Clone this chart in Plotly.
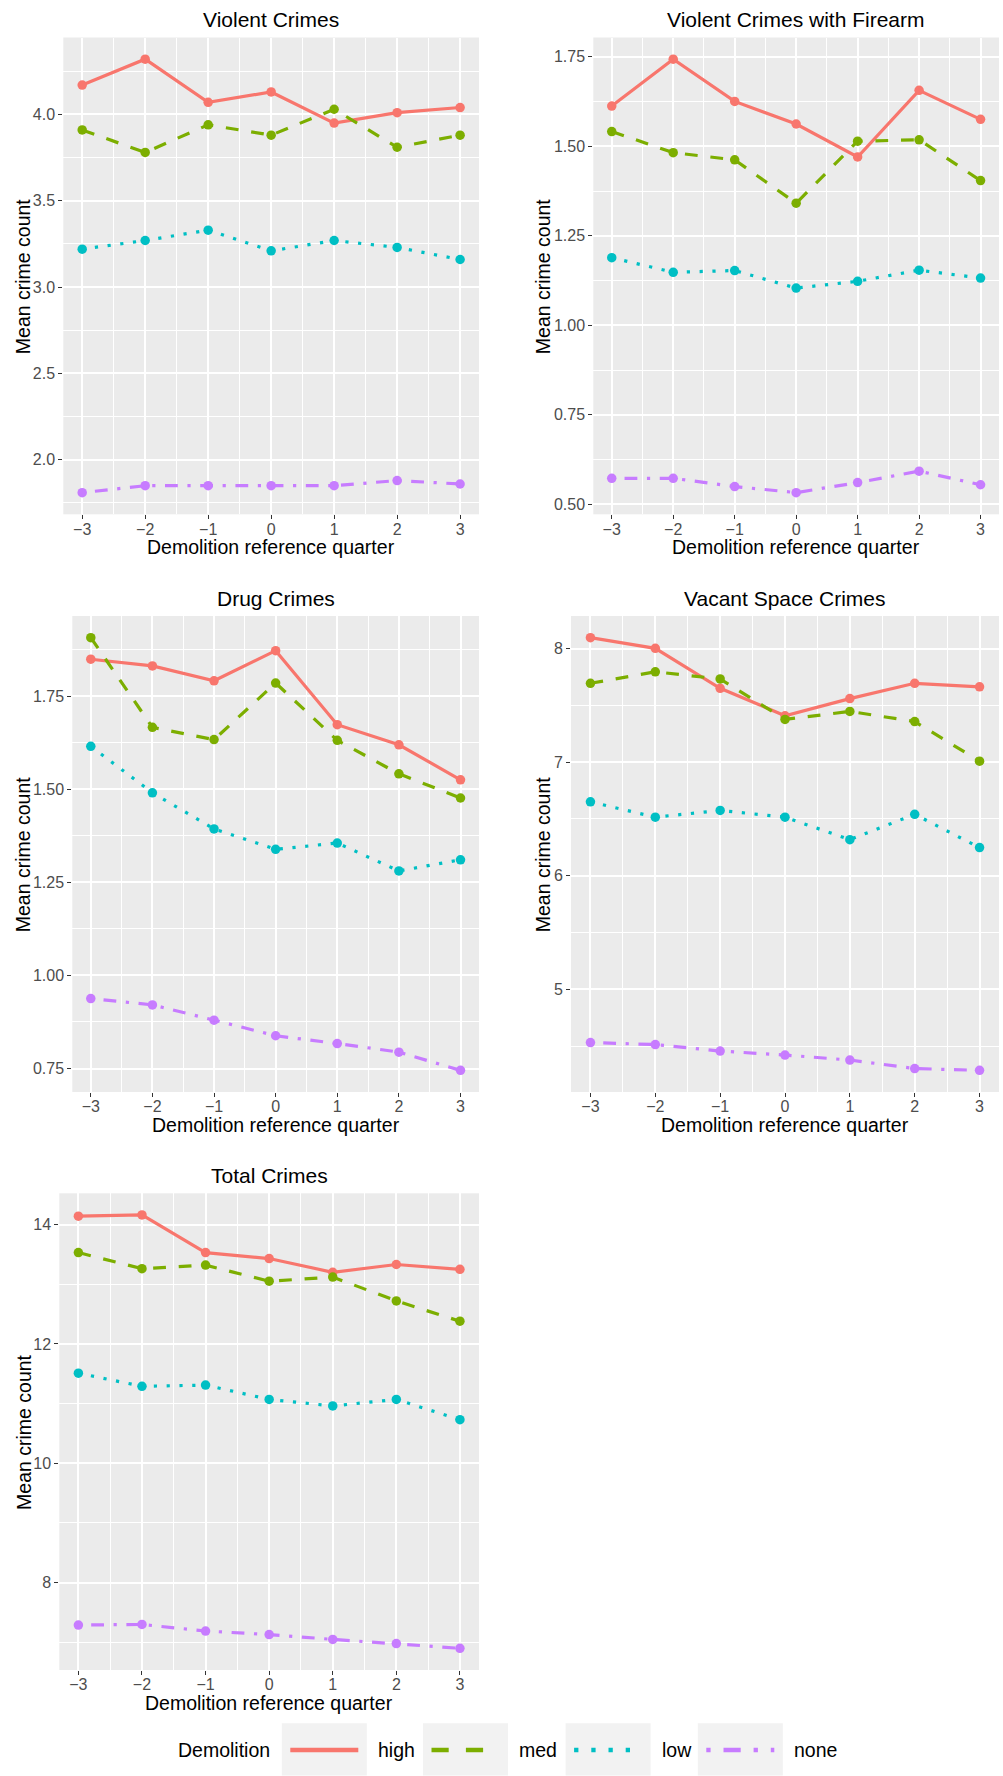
import plotly.graph_objects as go

# ---------------- data ----------------
quarters = [-3, -2, -1, 0, 1, 2, 3]
groups = ["high", "med", "low", "none"]

violent_high = [4.17, 4.32, 4.07, 4.13, 3.95, 4.01, 4.04]
violent_med = [3.91, 3.78, 3.94, 3.88, 4.03, 3.81, 3.88]
violent_low = [3.22, 3.27, 3.33, 3.21, 3.27, 3.23, 3.16]
violent_none = [1.81, 1.85, 1.85, 1.85, 1.85, 1.88, 1.86]

firearm_high = [1.612, 1.743, 1.625, 1.562, 1.470, 1.656, 1.575]
firearm_med = [1.541, 1.482, 1.462, 1.341, 1.514, 1.518, 1.404]
firearm_low = [1.189, 1.148, 1.153, 1.104, 1.123, 1.154, 1.132]
firearm_none = [0.573, 0.573, 0.550, 0.533, 0.561, 0.593, 0.555]

drug_high = [1.850, 1.832, 1.792, 1.873, 1.674, 1.620, 1.526]
drug_med = [1.908, 1.667, 1.634, 1.786, 1.632, 1.542, 1.477]
drug_low = [1.616, 1.491, 1.394, 1.339, 1.356, 1.281, 1.311]
drug_none = [0.938, 0.921, 0.880, 0.838, 0.817, 0.794, 0.745]

vacant_high = [8.097, 8.003, 7.651, 7.409, 7.560, 7.695, 7.664]
vacant_med = [7.695, 7.796, 7.733, 7.377, 7.447, 7.358, 7.009]
vacant_low = [6.651, 6.516, 6.575, 6.516, 6.318, 6.541, 6.248]
vacant_none = [4.531, 4.513, 4.456, 4.421, 4.377, 4.302, 4.286]

total_high = [14.14, 14.16, 13.53, 13.43, 13.20, 13.33, 13.25]
total_med = [13.53, 13.26, 13.32, 13.05, 13.12, 12.72, 12.38]
total_low = [11.51, 11.29, 11.31, 11.07, 10.96, 11.07, 10.73]
total_none = [7.29, 7.30, 7.19, 7.13, 7.05, 6.98, 6.90]

panel_titles = ["Violent Crimes", "Violent Crimes with Firearm", "Drug Crimes",
                "Vacant Space Crimes", "Total Crimes"]
x_title = "Demolition reference quarter"
y_title = "Mean crime count"
legend_title = "Demolition"

# ---------------- style ----------------
W, H = 1003, 1776
FONT = "Liberation Sans, Arial, Helvetica, sans-serif"
colors = {"high": "#F8766D", "med": "#7CAE00", "low": "#00BFC4", "none": "#C77CFF"}


def dash_for(g, lw):
    # ggplot linetypes: solid, dashed "44", dotted "13", dotdash "1343" (units of line width)
    pats = {"high": None, "med": [4, 4], "low": [1, 3], "none": [1, 3, 4, 3]}
    p = pats[g]
    if p is None:
        return "solid"
    return ",".join(f"{v * lw:.1f}px" for v in p)


LW = 3.2
LEG_LW = 4.3

series = [
    {"high": violent_high, "med": violent_med, "low": violent_low, "none": violent_none},
    {"high": firearm_high, "med": firearm_med, "low": firearm_low, "none": firearm_none},
    {"high": drug_high, "med": drug_med, "low": drug_low, "none": drug_none},
    {"high": vacant_high, "med": vacant_med, "low": vacant_low, "none": vacant_none},
    {"high": total_high, "med": total_med, "low": total_low, "none": total_none},
]
# panel geometry in pixels: (left, right, top, bottom)
boxes = [
    (63.3, 479, 37.5, 514.3),
    (593.3, 999, 37.5, 514.3),
    (72.3, 479, 616, 1092),
    (571, 999, 616, 1092),
    (59.3, 479, 1193.3, 1670),
]
ydticks = [0.5, 0.25, 0.25, 1, 2]
yfmts = [".1f", ".2f", ".2f", "d", "d"]


def fx(p):
    return p / W


def fy(p):
    return 1 - p / H


fig = go.Figure()
annotations = []
shapes = []

for i, (data, box) in enumerate(zip(series, boxes)):
    suf = "" if i == 0 else str(i + 1)
    for g in groups:
        fig.add_trace(go.Scatter(
            x=quarters, y=data[g], name=g, mode="lines+markers",
            xaxis="x" + suf, yaxis="y" + suf, showlegend=False,
            line=dict(color=colors[g], width=LW, dash=dash_for(g, LW)),
            marker=dict(color=colors[g], size=9.5),
        ))
    allv = [v for g in groups for v in data[g]]
    lo, hi = min(allv), max(allv)
    span = hi - lo
    l, r, t, b = box
    dt = ydticks[i]
    common_font = dict(family=FONT, size=16, color="#4D4D4D")
    fig.layout["xaxis" + suf] = dict(
        domain=[fx(l), fx(r)], anchor="y" + suf, range=[-3.3, 3.3],
        tick0=0, dtick=1, showgrid=True, gridcolor="white", gridwidth=1.8,
        zeroline=False, showline=False, ticks="outside", ticklen=4,
        tickwidth=1.2, tickcolor="#333333", tickfont=common_font,
        ticklabelstandoff=-4,
        minor=dict(tick0=0, dtick=0.5, showgrid=True, gridcolor="white",
                   gridwidth=0.9, ticks=""),
        fixedrange=True,
    )
    fig.layout["yaxis" + suf] = dict(
        domain=[fy(b), fy(t)], anchor="x" + suf,
        range=[lo - 0.05 * span, hi + 0.05 * span],
        tick0=0, dtick=dt, tickformat=yfmts[i],
        showgrid=True, gridcolor="white", gridwidth=1.8,
        zeroline=False, showline=False, ticks="outside", ticklen=4,
        tickwidth=1.2, tickcolor="#333333", tickfont=common_font,
        minor=dict(tick0=0, dtick=dt / 2, showgrid=True, gridcolor="white",
                   gridwidth=0.9, ticks=""),
        fixedrange=True,
    )
    cx = (l + r) / 2
    # panel title
    annotations.append(dict(
        text=panel_titles[i], x=fx(cx), y=fy(t - 17.5), xref="paper", yref="paper",
        xanchor="center", yanchor="middle", showarrow=False,
        font=dict(family=FONT, size=21, color="black")))
    # x axis title
    annotations.append(dict(
        text=x_title, x=fx(cx), y=fy(b + 33), xref="paper", yref="paper",
        xanchor="center", yanchor="middle", showarrow=False,
        font=dict(family=FONT, size=19.5, color="black")))
    # y axis title
    ytx = 23.3 if l < 300 else 543.3
    annotations.append(dict(
        text=y_title, x=fx(ytx), y=fy((t + b) / 2), xref="paper", yref="paper",
        xanchor="center", yanchor="middle", showarrow=False, textangle=-90,
        font=dict(family=FONT, size=19.5, color="black")))

# ---------------- manual legend (ggplot style keys) ----------------
leg_y = 1750
key_left = [281.8, 423.0, 565.6, 697.8]
key_w = 85
annotations.append(dict(
    text=legend_title, x=fx(272), y=fy(leg_y), xref="paper", yref="paper",
    xanchor="right", yanchor="middle", showarrow=False,
    font=dict(family=FONT, size=19.5, color="black")))
for g, kl in zip(groups, key_left):
    shapes.append(dict(type="rect", xref="paper", yref="paper",
                       x0=fx(kl), x1=fx(kl + key_w), y0=fy(1775.5), y1=fy(1723.3),
                       fillcolor="#F2F2F2", line=dict(width=0), layer="below"))
    shapes.append(dict(type="line", xref="paper", yref="paper",
                       x0=fx(kl + 8.5), x1=fx(kl + key_w - 8.5), y0=fy(leg_y), y1=fy(leg_y),
                       line=dict(color=colors[g], width=LEG_LW, dash=dash_for(g, LEG_LW))))
    annotations.append(dict(
        text=g, x=fx(kl + key_w + 9), y=fy(leg_y), xref="paper", yref="paper",
        xanchor="left", yanchor="middle", showarrow=False,
        font=dict(family=FONT, size=19.5, color="black")))

fig.update_layout(
    width=W, height=H, margin=dict(l=0, r=0, t=0, b=0),
    paper_bgcolor="white", plot_bgcolor="#EBEBEB",
    font=dict(family=FONT, color="black"),
    showlegend=False, annotations=annotations, shapes=shapes,
)

fig.write_html("out.html", post_script="document.body.style.margin='0';",
               config={"displayModeBar": False})
